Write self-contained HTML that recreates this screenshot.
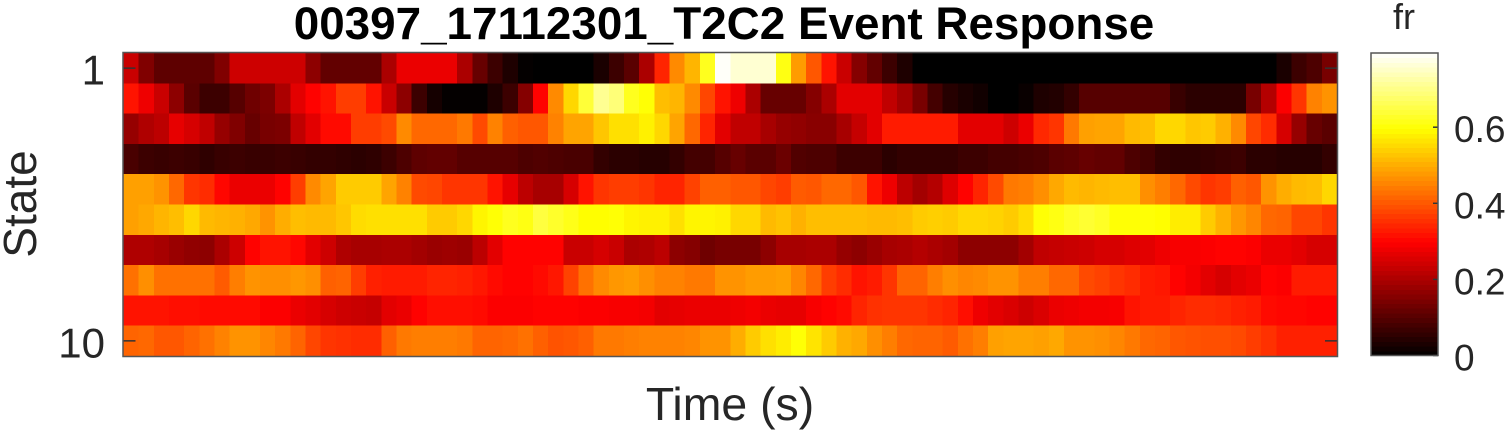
<!DOCTYPE html>
<html lang="en">
<head>
<meta charset="utf-8">
<title>00397_17112301_T2C2 Event Response</title>
<style>
html,body{margin:0;padding:0;background:#fff;}
body{width:1507px;height:432px;overflow:hidden;}
svg{display:block;font-family:"Liberation Sans",Arial,sans-serif;}
text{fill:#262626;}
</style>
</head>
<body>
<svg id="chart" width="1507" height="432" viewBox="0 0 1507 432" xmlns="http://www.w3.org/2000/svg">
  <text x="724" y="39" text-anchor="middle" font-size="45.8" font-weight="bold" style="fill:#000">00397_17112301_T2C2 Event Response</text>
  <g id="cells" shape-rendering="crispEdges"></g>
  <g id="yticks"></g>
  <rect x="123" y="52.5" width="1214.5" height="304" fill="none" stroke="#555" stroke-width="1.5"/>
  <text transform="translate(36,204) rotate(-90)" text-anchor="middle" font-size="46">State</text>
  <text x="730" y="420" text-anchor="middle" font-size="46.4">Time (s)</text>
  <g id="colorbar" shape-rendering="crispEdges"></g>
  <g id="cbticks"></g>
  <rect x="1371" y="53" width="67" height="302.5" fill="none" stroke="#555" stroke-width="1.5"/>
  <text x="1404" y="29" text-anchor="middle" font-size="36">fr</text>
</svg>
<script>
const state1 = [.235,.15,.11,.11,.11,.11,.15,.24,.24,.24,
  .24,.24,.165,.115,.115,.115,.115,.2,.275,.275,
  .275,.275,.2,.12,.07,.035,.005,0,0,0,
  0,.03,.07,.105,.2,.34,.46,.51,.62,.79,
  .76,.76,.76,.61,.48,.40,.32,.235,.155,.115,
  .07,.035,0,0,0,0,0,0,0,0,
  0,0,0,0,0,0,0,0,0,0,
  0,0,0,0,0,0,.03,.07,.09,.14];
const state2 = [.32,.28,.235,.165,.105,.07,.07,.10,.13,.145,
  .2,.265,.30,.32,.37,.37,.32,.235,.165,.07,
  .025,.005,.005,.005,.035,.07,.155,.30,.46,.55,
  .64,.71,.69,.62,.60,.52,.51,.46,.38,.32,
  .28,.2,.12,.12,.12,.155,.2,.265,.265,.265,
  .225,.19,.14,.08,.045,.03,.02,0,0,.01,
  .035,.04,.06,.10,.10,.10,.10,.10,.10,.065,
  .05,.05,.05,.05,.14,.21,.295,.36,.45,.47];
const state3 = [.175,.205,.22,.27,.25,.225,.175,.15,.12,.14,
  .145,.225,.265,.31,.31,.37,.37,.385,.46,.42,
  .42,.42,.44,.385,.45,.41,.40,.40,.45,.49,
  .49,.53,.56,.56,.58,.55,.49,.42,.34,.265,
  .225,.225,.195,.175,.17,.16,.16,.195,.23,.265,
  .33,.33,.33,.33,.33,.265,.265,.265,.24,.275,
  .345,.36,.44,.485,.49,.49,.515,.52,.55,.55,
  .53,.535,.505,.46,.38,.35,.25,.175,.12,.105];
const state4 = [.085,.07,.065,.07,.065,.055,.065,.07,.065,.065,
  .07,.065,.06,.06,.055,.05,.055,.07,.09,.11,
  .115,.115,.10,.10,.10,.10,.09,.095,.09,.085,
  .085,.06,.05,.05,.045,.045,.06,.08,.08,.10,
  .12,.105,.105,.125,.095,.09,.09,.07,.07,.07,
  .05,.06,.06,.06,.06,.07,.07,.08,.08,.085,
  .09,.105,.11,.12,.115,.115,.09,.08,.06,.055,
  .055,.06,.065,.07,.05,.05,.045,.045,.045,.06];
const state5 = [.485,.485,.47,.42,.36,.35,.305,.275,.275,.275,
  .30,.37,.46,.49,.535,.535,.535,.49,.45,.385,
  .38,.36,.36,.36,.32,.27,.22,.195,.195,.25,
  .32,.36,.37,.37,.36,.34,.34,.375,.41,.41,
  .40,.40,.38,.37,.405,.40,.42,.42,.40,.32,
  .28,.22,.19,.21,.26,.30,.34,.385,.44,.445,
  .465,.495,.515,.51,.515,.52,.52,.465,.445,.42,
  .385,.36,.37,.41,.40,.47,.50,.515,.52,.55];
const state6 = [.485,.495,.51,.52,.55,.515,.51,.505,.495,.47,
  .50,.52,.515,.515,.53,.555,.56,.56,.56,.56,
  .535,.535,.55,.585,.60,.62,.61,.645,.63,.615,
  .595,.595,.60,.585,.58,.58,.56,.585,.585,.58,
  .55,.55,.515,.525,.505,.52,.52,.52,.52,.515,
  .515,.52,.535,.54,.535,.55,.55,.545,.535,.555,
  .60,.61,.625,.635,.625,.60,.60,.60,.595,.575,
  .575,.535,.505,.475,.455,.42,.415,.38,.38,.36];
const state7 = [.205,.205,.195,.18,.17,.165,.2,.24,.30,.32,
  .32,.305,.265,.24,.205,.195,.195,.2,.2,.19,
  .18,.185,.18,.22,.265,.30,.30,.30,.30,.235,
  .235,.25,.235,.2,.205,.22,.165,.155,.13,.14,
  .14,.14,.165,.195,.195,.2,.2,.175,.165,.18,
  .195,.2,.21,.2,.19,.165,.165,.165,.165,.19,
  .225,.23,.235,.24,.25,.25,.26,.265,.28,.29,
  .29,.295,.30,.30,.295,.275,.275,.265,.25,.25];
const state8 = [.43,.465,.43,.43,.43,.43,.405,.445,.47,.465,
  .465,.475,.465,.41,.415,.37,.335,.33,.33,.33,
  .34,.34,.335,.325,.31,.30,.30,.31,.325,.375,
  .43,.46,.475,.48,.465,.45,.45,.44,.44,.47,
  .47,.48,.48,.485,.455,.42,.37,.35,.32,.33,
  .36,.415,.415,.445,.465,.455,.46,.47,.47,.445,
  .445,.42,.42,.385,.375,.36,.35,.33,.325,.30,
  .285,.265,.25,.265,.275,.30,.295,.33,.33,.33];
const state9 = [.32,.32,.32,.315,.315,.31,.31,.31,.31,.295,
  .295,.275,.265,.25,.24,.235,.23,.265,.275,.30,
  .315,.315,.315,.31,.295,.295,.295,.30,.30,.30,
  .295,.295,.29,.29,.285,.265,.27,.275,.275,.275,
  .28,.285,.275,.27,.27,.29,.30,.31,.34,.355,
  .36,.36,.36,.35,.34,.315,.28,.265,.255,.24,
  .255,.275,.28,.285,.285,.29,.32,.33,.33,.34,
  .35,.35,.345,.335,.33,.31,.305,.305,.30,.30];
const state10 = [.415,.42,.40,.40,.415,.43,.45,.47,.47,.455,
  .44,.415,.38,.36,.355,.35,.35,.41,.44,.445,
  .445,.445,.44,.415,.415,.42,.43,.41,.395,.40,
  .41,.44,.44,.445,.45,.45,.45,.455,.47,.47,
  .50,.535,.56,.575,.60,.565,.535,.505,.495,.465,
  .445,.42,.415,.415,.405,.43,.445,.485,.49,.49,
  .485,.495,.47,.47,.465,.455,.44,.42,.415,.40,
  .395,.39,.39,.385,.37,.355,.335,.335,.335,.335];
const stateRows = [state1,state2,state3,state4,state5,state6,state7,state8,state9,state10];
const yTickStates = [1,10];
const yTickLabels = ["1","10"];
const colorTicks = [0,0.2,0.4,0.6];
const colorTickLabels = ["0","0.2","0.4","0.6"];
const colorMax = 0.795;

const NS = "http://www.w3.org/2000/svg";
const plotLeft = 123.5, plotRight = 1337, plotTop = 53, plotBottom = 356;
const barLeft = 1371, barRight = 1438, barTop = 53, barBottom = 355.5;
const columnCount = state1.length;
const xScale = i => plotLeft + (plotRight - plotLeft) * i / columnCount;
const yScale = s => plotTop + (plotBottom - plotTop) * s / stateRows.length;
const cbScale = v => barBottom - (barBottom - barTop) * v / colorMax;
function clamp01(x){return Math.max(0, Math.min(1, x));}
function hot(v){
  const t = clamp01(v / colorMax);
  const r = Math.round(255 * clamp01(t / 0.375));
  const g = Math.round(255 * clamp01((t - 0.375) / 0.375));
  const b = Math.round(255 * clamp01((t - 0.75) / 0.25));
  return "rgb(" + r + "," + g + "," + b + ")";
}
function make(tag, attrs, parent){
  const el = document.createElementNS(NS, tag);
  for (const k in attrs) el.setAttribute(k, attrs[k]);
  parent.appendChild(el);
  return el;
}

const cells = document.getElementById("cells");
stateRows.forEach((row, s) => {
  row.forEach((value, i) => {
    const x0 = xScale(i), x1 = xScale(i + 1), y0 = yScale(s), y1 = yScale(s + 1);
    const cell = make("rect", {x: x0, y: y0, width: x1 - x0 + 0.5, height: y1 - y0 + 0.5, fill: hot(value)}, cells);
    
    
  });
});

const yticks = document.getElementById("yticks");
yTickStates.forEach((state, n) => {
  const y = yScale(state - 0.5);
  const left = make("line", {x1: plotLeft, x2: plotLeft + 12, y1: y, y2: y, stroke: "#333", "stroke-width": 1.5}, yticks);
  
  
  const right = make("line", {x1: plotRight - 12, x2: plotRight, y1: y, y2: y, stroke: "#333", "stroke-width": 1.5}, yticks);
  
  
  const label = make("text", {x: 105, y: y + 16.5, "text-anchor": "end", "font-size": 42}, yticks);
  label.textContent = yTickLabels[n];
  
  
});

const colorbar = document.getElementById("colorbar");
const colorLevels = 64;
for (let k = 0; k < colorLevels; k++) {
  const v0 = colorMax * k / colorLevels, v1 = colorMax * (k + 1) / colorLevels;
  const band = make("rect", {x: barLeft, y: cbScale(v1), width: barRight - barLeft, height: cbScale(v0) - cbScale(v1) + 0.5, fill: hot((v0 + v1) / 2)}, colorbar);
  
  
}

const cbticks = document.getElementById("cbticks");
colorTicks.forEach((v, n) => {
  const y = cbScale(v);
  const tick = make("line", {x1: barRight - 5, x2: barRight, y1: y, y2: y, stroke: "#333", "stroke-width": 1.5}, cbticks);
  
  
  const label = make("text", {x: 1454, y: y + 15, "font-size": 37}, cbticks);
  label.textContent = colorTickLabels[n];
  
  
});
</script>
</body>
</html>
